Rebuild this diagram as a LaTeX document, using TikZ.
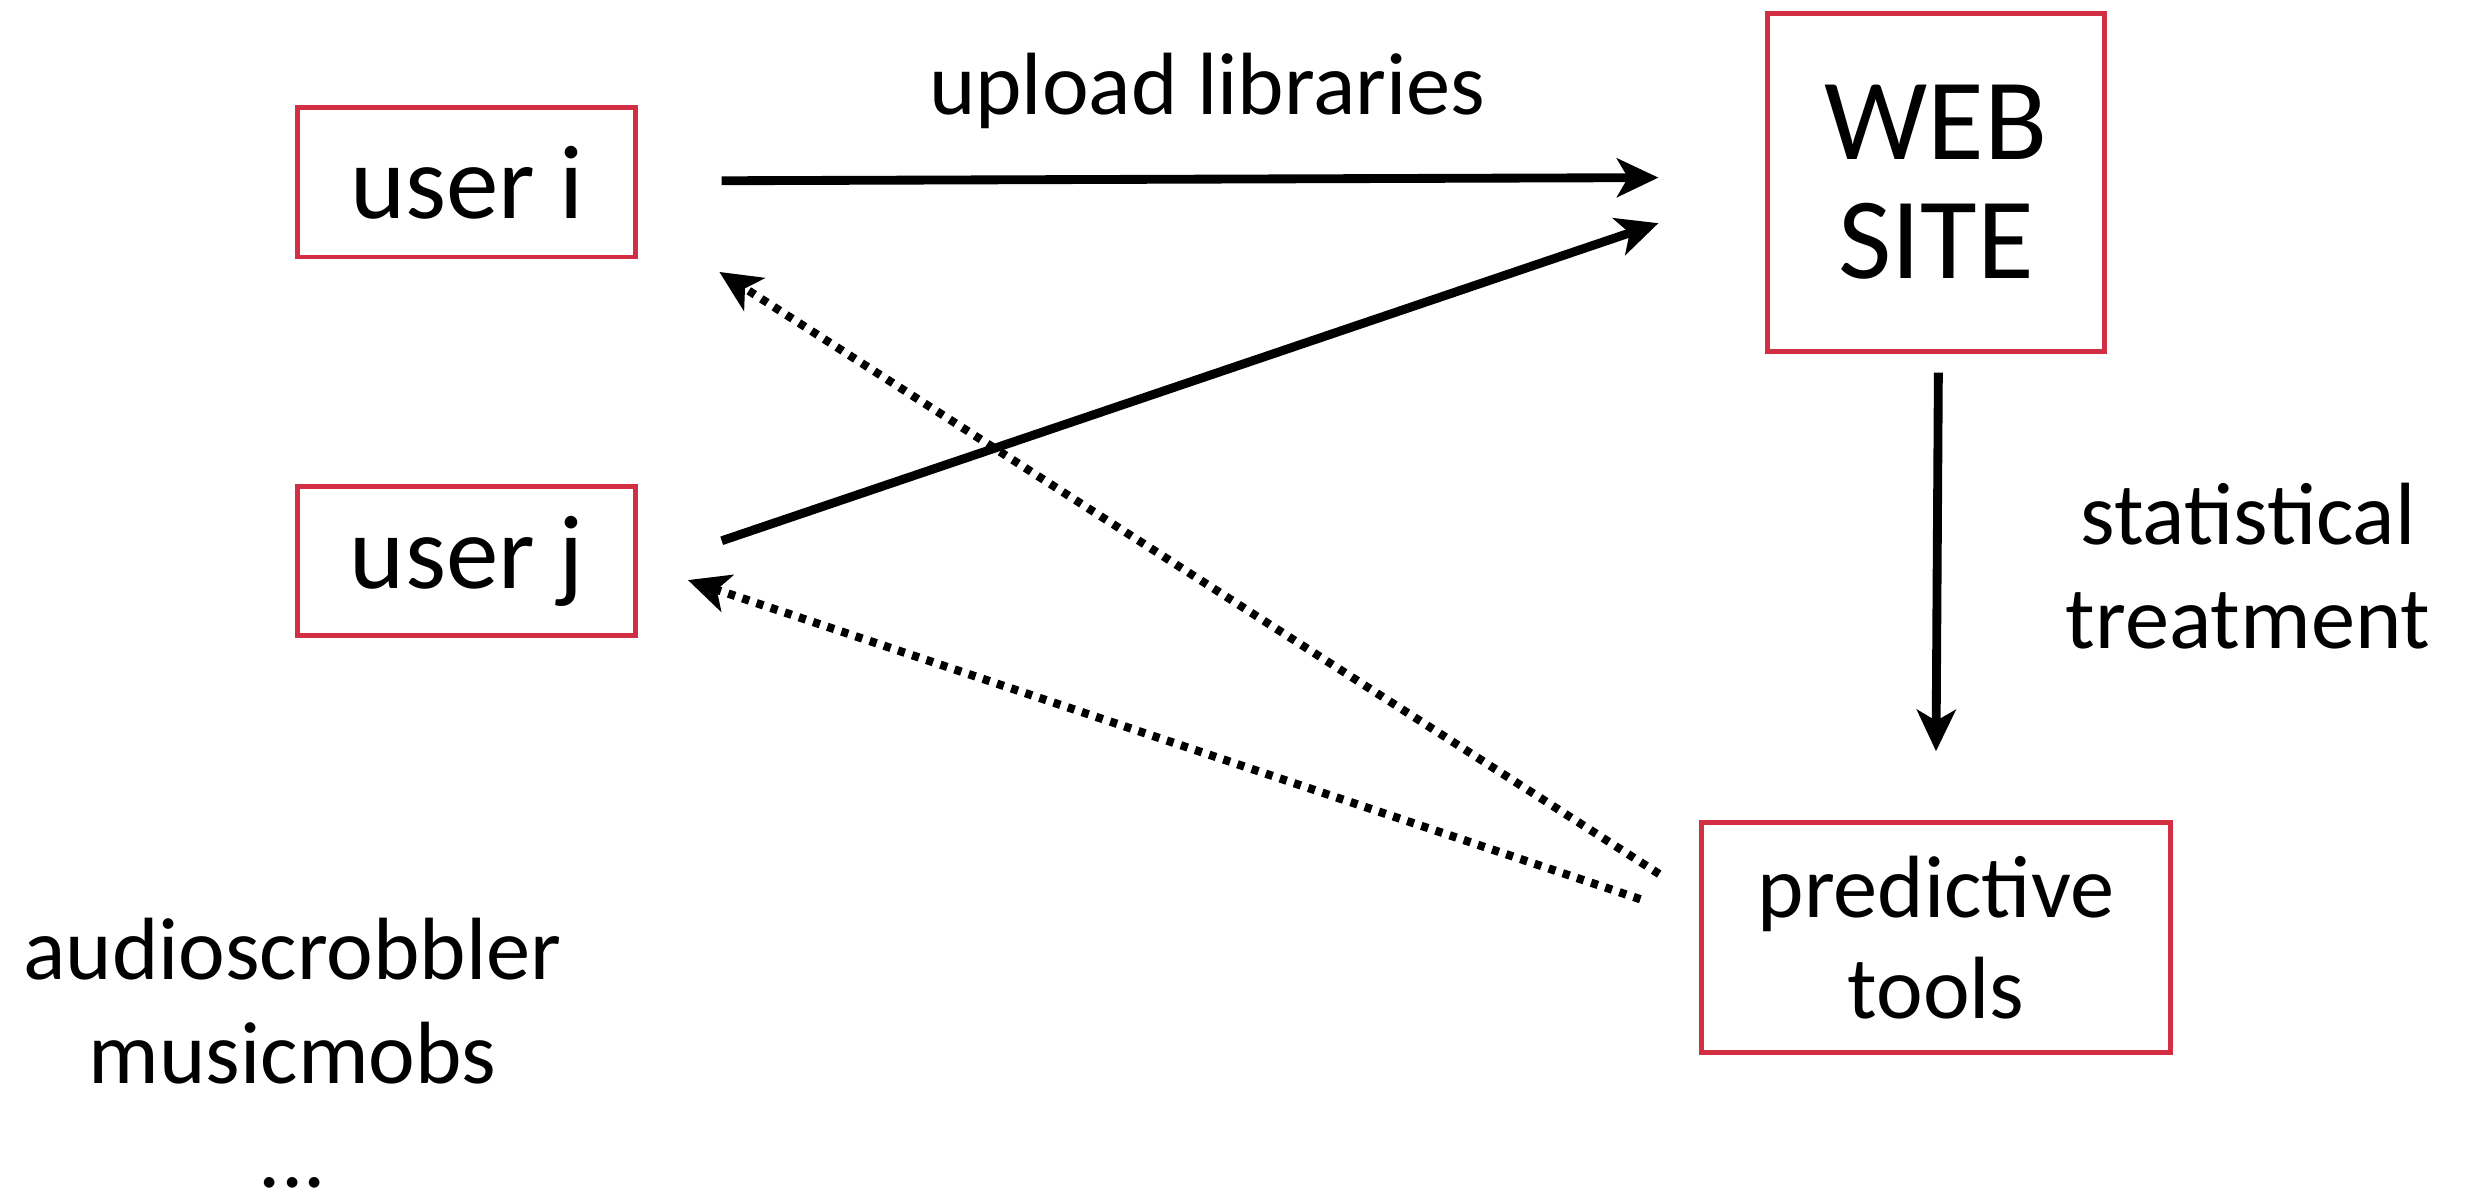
\documentclass[tikz,border=0pt]{standalone}
\usepackage{fontspec}
\setmainfont{Carlito}
\usepackage{tikz}
\usetikzlibrary{arrows.meta, calc}
\definecolor{boxred}{RGB}{211,47,68}
\tikzstyle{block} = [rectangle, draw=boxred, line width=0.9pt, text centered, align=center, font=\fontsize{19}{22}\selectfont]
\tikzstyle{line} = [draw, line width=1.6pt, -{Stealth[length=7.5pt,width=7pt,inset=2pt]}]
\tikzstyle{dotline} = [draw, line width=1.5pt, dash pattern=on 1.3pt off 1.4pt, -{Stealth[length=7.5pt,width=7pt,inset=2pt]}]
\tikzstyle{labeltext} = [align=center, inner sep=0pt, font=\fontsize{16}{18.8}\selectfont]

\begin{document}
\begin{tikzpicture}[auto,node distance=2cm]
    \useasboundingbox (0,0) rectangle (15.68,7.63);
    % Place nodes
    \node [block, minimum width=2.15cm, minimum height=0.95cm] (useri) at (2.97,6.47) {user i};
    \node [block, minimum width=2.15cm, minimum height=0.95cm, below of=useri, node distance=2.41cm] (userj) {user j};
    \node [block, minimum width=2.14cm, minimum height=2.15cm, font=\fontsize{21}{21.6}\selectfont, right of=useri, node distance=9.345cm] (web) {WEB\\SITE};
    \node [block, minimum width=2.98cm, minimum height=1.46cm, font=\fontsize{16}{18.2}\selectfont, below of=web, node distance=4.805cm] (pred) {predictive\\tools};
    \node [labeltext, anchor=base] (upload) at (7.68,6.90) {upload libraries};
    \node [labeltext] (stat) at (14.30,4.03) {statistical\\treatment};
    \node [labeltext] (sites) at (1.86,0.93) {audioscrobbler\\musicmobs\\...};
    % Draw edges
    \path [line] ($(useri.east)+(0.53,0.01)$) -- ($(web.west)+(-0.68,0.03)$);
    \path [line] ($(userj.east)+(0.53,0.13)$) -- ($(web.west)+(-0.68,-0.26)$);
    \path [line] ($(web.south)+(0.015,-0.12)$) -- ($(pred.north)+(0,0.44)$);
    \path [dotline] ($(pred.west)+(-0.255,0.405)$) -- ($(useri.east)+(0.515,-0.57)$);
    \path [dotline] ($(pred.west)+(-0.375,0.245)$) -- ($(userj.east)+(0.315,-0.12)$);
\end{tikzpicture}
\end{document}
